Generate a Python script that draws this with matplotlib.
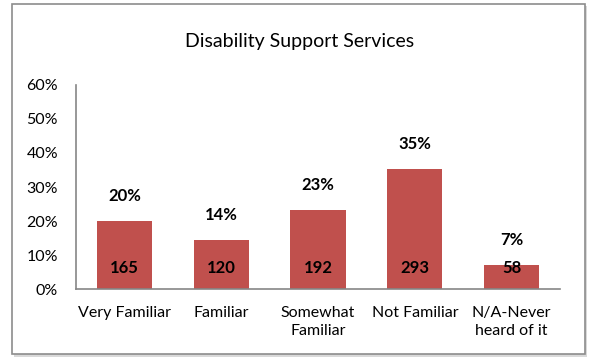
import matplotlib.pyplot as plt
from matplotlib.patches import Rectangle
import numpy as np

categories = ["Very Familiar", "Familiar", "Somewhat\nFamiliar", "Not Familiar", "N/A-Never\nheard of it"]
counts = [165, 120, 192, 293, 58]
total = sum(counts)
shares = [c / total for c in counts]

plt.rcParams['font.family'] = ['Lato', 'DejaVu Sans']

fig = plt.figure(figsize=(5.92, 3.6), dpi=100)
ax = fig.add_axes([0.1284, 0.197, 0.8176, 0.567])
ax.set_zorder(2)

# outer chart border with a light shadow
fig.patches.append(Rectangle((14 / 592, 1 - 357 / 360), 573 / 592, 351 / 360,
                             transform=fig.transFigure, facecolor='#d9d9d9',
                             edgecolor='none', zorder=0))
fig.patches.append(Rectangle((12 / 592, 1 - 354 / 360), 573 / 592, 350 / 360,
                             transform=fig.transFigure, facecolor='white',
                             edgecolor='#8c8c8c', linewidth=1.2, zorder=0))

x = np.arange(len(categories))
ax.bar(x, shares, width=0.57, color='#C0504D')

for xi, s, c in zip(x, shares, counts):
    ax.annotate(f"{s:.0%}", (xi, s), xytext=(0, 18), textcoords='offset points',
                ha='center', va='center', fontsize=12, fontweight='bold')
    ax.text(xi, 0.062, str(c), ha='center', va='center', fontsize=12, fontweight='bold')

ax.set_xlim(-0.5, len(categories) - 0.5)
ax.set_ylim(0, 0.6)
ax.set_yticks(np.arange(0, 0.61, 0.1))
ax.set_yticklabels([f"{int(round(t * 100))}%" for t in np.arange(0, 0.61, 0.1)])
ax.set_xticks(x)
ax.set_xticklabels(categories, linespacing=1.35)
ax.tick_params(axis='both', length=0, labelsize=11.5)
ax.tick_params(axis='y', pad=13)
ax.tick_params(axis='x', pad=12)
for side in ['top', 'right']:
    ax.spines[side].set_visible(False)
for side in ['left', 'bottom']:
    ax.spines[side].set_color('#868686')
    ax.spines[side].set_linewidth(1.2)
ax.set_facecolor('none')

fig.text(300 / 592, 1 - 42 / 360, "Disability Support Services",
         ha='center', va='center', fontsize=14)

fig.savefig('out.png', dpi=100)
